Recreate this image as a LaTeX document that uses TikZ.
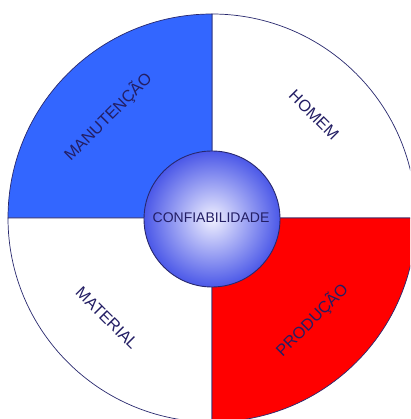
\documentclass[tikz,border=0pt]{standalone}
\usepackage{fontspec}
\setmainfont{Liberation Sans}
\begin{document}
\begin{tikzpicture}[x=1pt,y=1pt,
  edge/.style={draw=navyline,line width=0.7pt},
  lbl/.style={text=txtnavy,font=\fontsize{16.3}{19}\selectfont,inner sep=0pt}]
\definecolor{navyline}{RGB}{40,40,110}
\definecolor{txtnavy}{RGB}{35,30,100}
\definecolor{qblue}{RGB}{51,102,255}
\definecolor{qred}{RGB}{255,0,0}
\definecolor{sphereout}{RGB}{75,88,232}
\definecolor{spherein}{RGB}{240,240,255}
\useasboundingbox (0,0) rectangle (410,419);
\clip (0,0) rectangle (410,419);
\fill[white] (0,0) rectangle (410,419);
\coordinate (c) at (212,201);
% quadrants
\filldraw[edge,fill=white] (c) -- ++(0:204) arc (0:90:204) -- cycle;
\filldraw[edge,fill=qblue] (c) -- ++(90:204) arc (90:180:204) -- cycle;
\filldraw[edge,fill=white] (c) -- ++(180:204) arc (180:270:204) -- cycle;
\filldraw[edge,fill=qred] (c) -- ++(270:204) arc (270:360:204) -- cycle;
% centre sphere
\shade[inner color=spherein,outer color=sphereout] (212,200) circle (68);
\draw[navyline,line width=0.9pt] (212,200) circle (68);
\node[lbl,font=\fontsize{14}{16}\selectfont] (conf) at (211,201) {CONFIABILIDADE};
% labels
\node[lbl,rotate=45] (man) at (108,302) {MANUTENÇÃO};
\node[lbl,rotate=-45] (hom) at (314,304) {HOMEM};
\node[lbl,rotate=-45] (mat) at (107,101) {MATERIAL};
\node[lbl,rotate=45] (prod) at (312,99) {PRODUÇÃO};
\end{tikzpicture}
\end{document}
